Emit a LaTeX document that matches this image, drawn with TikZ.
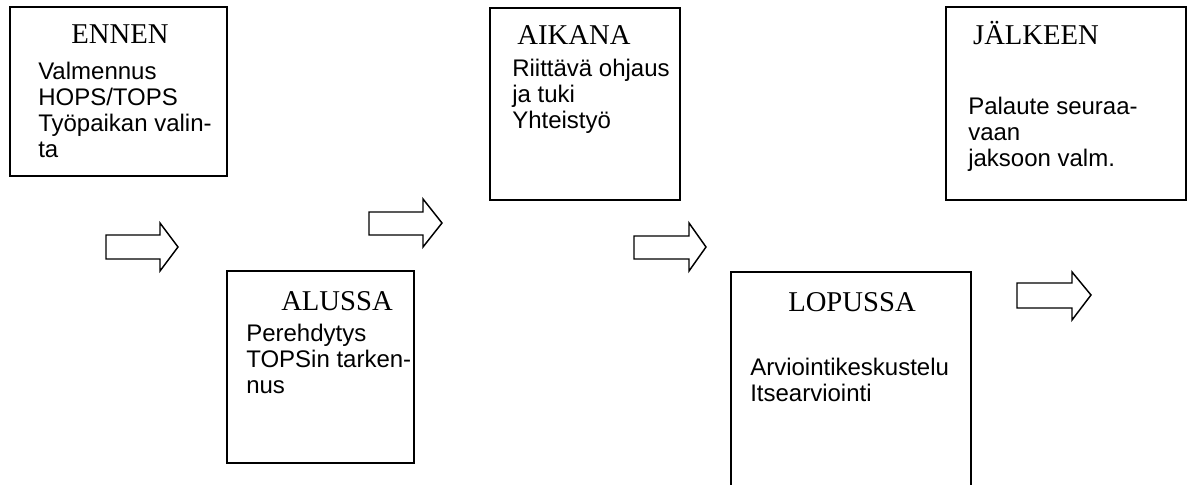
\documentclass[tikz,border=0pt]{standalone}
\usepackage{fontspec}
\newfontfamily\titlefont{Liberation Serif}
\newfontfamily\bodyfont{Liberation Sans}
\begin{document}
\begin{tikzpicture}[x=0.75pt,y=-0.75pt,
  box/.style={draw, line width=1.5pt, inner sep=0pt, outer sep=0pt, anchor=north west},
  phase/.style={font=\titlefont\fontsize{21.5}{21.5}\selectfont, anchor=base, inner sep=0pt},
  body/.style={font=\bodyfont\fontsize{18}{19.3}\selectfont, anchor=base west, align=left, inner sep=0pt},
  blockarrow/.style={draw, line width=1.1pt, line join=miter, fill=white}]
\useasboundingbox (0,0) rectangle (1192,485);
\clip (0,0) rectangle (1192,485);
% boxes
\node[box, minimum width=162.75pt, minimum height=126.75pt] (ennen) at (10,7) {};
\node[box, minimum width=140.25pt, minimum height=144pt] (alussa) at (227,271) {};
\node[box, minimum width=142.5pt, minimum height=144pt] (aikana) at (490,8) {};
\node[box, minimum width=180pt, minimum height=170pt] (lopussa) at (731,272) {};
\node[box, minimum width=180pt, minimum height=144.75pt] (jalkeen) at (946,7) {};
% titles
\node[phase] (t1) at (120,44) {ENNEN};
\node[phase] (t2) at (337,310) {ALUSSA};
\node[phase] (t3) at (574,45) {AIKANA};
\node[phase] (t4) at (852,311) {LOPUSSA};
\node[phase] (t5) at (1036,45) {JÄLKEEN};
% bodies (anchored at the baseline of their last line)
\node[body] (b1) at (38,157) {Valmennus\\HOPS/TOPS\\Työpaikan valin-\\ta};
\node[body] (b2) at (246,393) {Perehdytys\\TOPSin tarken-\\nus};
\node[body] (b3) at (512,128) {Riittävä ohjaus\\ja tuki\\Yhteistyö};
\node[body] (b4) at (750,401) {Arviointikeskustelu\\Itsearviointi};
\node[body] (b5) at (968,166) {Palaute seuraa-\\vaan\\jaksoon valm.};
% block arrows
\draw[blockarrow] (106,235) -- (160,235) -- (160,223) -- (178,247) -- (160,271) -- (160,259) -- (106,259) -- cycle;
\draw[blockarrow] (369,212) -- (423,212) -- (423,199) -- (442,223) -- (423,247) -- (423,235) -- (369,235) -- cycle;
\draw[blockarrow] (634,236) -- (689,236) -- (689,223) -- (706,247) -- (689,271) -- (689,259) -- (634,259) -- cycle;
\draw[blockarrow] (1017,283) -- (1072,283) -- (1072,272) -- (1091,295) -- (1072,320) -- (1072,308) -- (1017,308) -- cycle;
\end{tikzpicture}
\end{document}
